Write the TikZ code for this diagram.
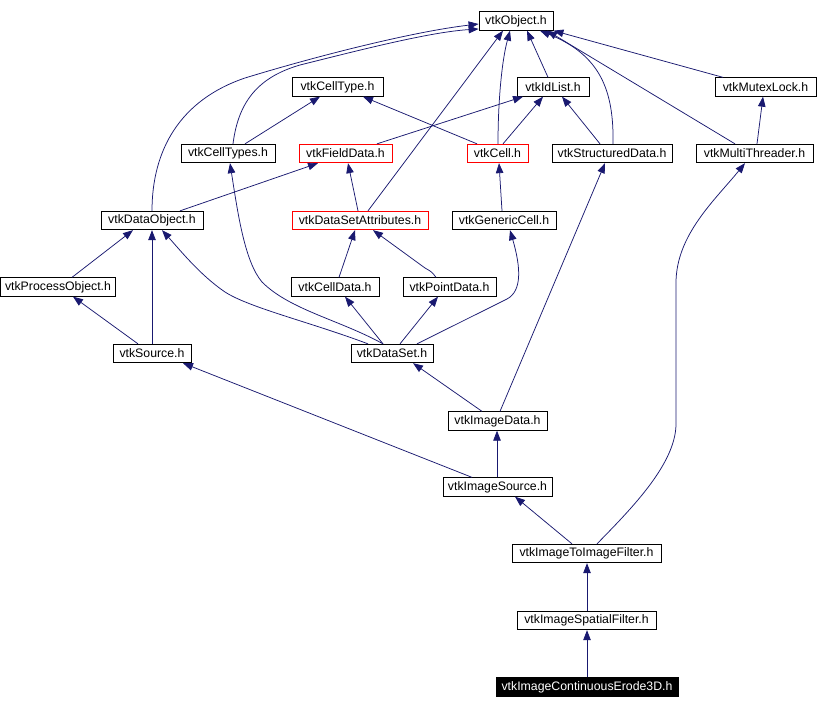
\documentclass[tikz,border=0pt]{standalone}
\usepackage{fontspec}
\setmainfont{Liberation Sans}
\usetikzlibrary{arrows.meta,calc}
\definecolor{edgecol}{HTML}{191970}
\tikzset{
  cls/.style={draw=black,line width=0.8pt,inner sep=0pt,minimum height=18.5pt,font=\fontsize{12.3}{14}\selectfont,fill=white},
  redcls/.style={cls,draw=red},
  maincls/.style={cls,fill=black,text=white},
  edge/.style={draw=edgecol,line width=0.75pt,-{Triangle[length=10pt,width=7.5pt]}},
}
\begin{document}
\begin{tikzpicture}[x=1pt,y=-1pt]
\useasboundingbox (0,0) rectangle (818,709);
% nodes
\node[cls,minimum width=74pt] (obj) at (516,21) {vtkObject.h};
\node[cls,minimum width=72pt] (idlist) at (553,87) {vtkIdList.h};
\node[cls,minimum width=101pt] (mutex) at (765.5,87) {vtkMutexLock.h};
\node[cls,minimum width=91pt] (celltype) at (337.5,87) {vtkCellType.h};
\node[cls,minimum width=94pt] (celltypes) at (228,153.5) {vtkCellTypes.h};
\node[redcls,minimum width=93pt] (fielddata) at (345.5,153.5) {vtkFieldData.h};
\node[redcls,minimum width=61pt] (cell) at (497.5,153.5) {vtkCell.h};
\node[cls,minimum width=120pt] (sd) at (612,153.5) {vtkStructuredData.h};
\node[cls,minimum width=117pt] (mt) at (754.5,153.5) {vtkMultiThreader.h};
\node[cls,minimum width=102pt] (dataobject) at (152,220.5) {vtkDataObject.h};
\node[redcls,minimum width=136pt] (dsa) at (360,220.5) {vtkDataSetAttributes.h};
\node[cls,minimum width=104pt] (gencell) at (504,220.5) {vtkGenericCell.h};
\node[cls,minimum width=115pt] (procobj) at (58,287) {vtkProcessObject.h};
\node[cls,minimum width=88pt] (celldata) at (335,287) {vtkCellData.h};
\node[cls,minimum width=93pt] (pointdata) at (449.5,287) {vtkPointData.h};
\node[cls,minimum width=78pt] (source) at (152,353.5) {vtkSource.h};
\node[cls,minimum width=82pt] (dataset) at (392,353.5) {vtkDataSet.h};
\node[cls,minimum width=99pt] (imagedata) at (497.5,421) {vtkImageData.h};
\node[cls,minimum width=109pt] (imagesource) at (497.5,487) {vtkImageSource.h};
\node[cls,minimum width=149pt] (itif) at (586.5,553.5) {vtkImageToImageFilter.h};
\node[cls,minimum width=139pt] (isf) at (586.5,620.5) {vtkImageSpatialFilter.h};
\node[maincls,minimum width=182pt] (erode) at (587,687) {vtkImageContinuousErode3D.h};
% edges
\draw[edge] (152,0 |- dataobject.north) .. controls (152,150) and (180,100) .. (245,78) .. controls (310,58) and (410,32) .. (obj.west |- 0,24);
\draw[edge] (233,0 |- celltypes.north) .. controls (238,105) and (255,78) .. (300,65) .. controls (360,50) and (430,32) .. (obj.west |- 0,29);
\draw[edge] (245,0 |- celltypes.north) -- (320,0 |- celltype.south);
\draw[edge] (477,0 |- cell.north) -- (363,0 |- celltype.south);
\draw[edge] (377,0 |- fielddata.north) -- (523,0 |- idlist.south);
\draw[edge] (503,0 |- cell.north) -- (543,0 |- idlist.south);
\draw[edge] (600,0 |- sd.north) -- (562,0 |- idlist.south);
\draw[edge] (498,0 |- cell.north) .. controls (498,100) and (502,60) .. (510,0 |- obj.south);
\draw[edge] (368,0 |- dsa.north) -- (503,0 |- obj.south);
\draw[edge] (548,0 |- idlist.north) -- (527,0 |- obj.south);
\draw[edge] (613,0 |- sd.north) .. controls (614,90) and (600,55) .. (540,0 |- obj.south);
\draw[edge] (735,0 |- mt.north) -- (547,0 |- obj.south);
\draw[edge] (723,0 |- mutex.north) -- (obj.south east);
\draw[edge] (757,0 |- mt.north) -- (763,0 |- mutex.south);
\draw[edge] (502,0 |- gencell.north) -- (499,0 |- cell.south);
\draw[edge] (180,0 |- dataobject.north) -- (318,0 |- fielddata.south);
\draw[edge] (358,0 |- dsa.north) -- (348,0 |- fielddata.south);
\draw[edge] (72,0 |- procobj.north) -- (133,0 |- dataobject.south);
\draw[edge] (152,0 |- source.north) -- (152,0 |- dataobject.south);
\draw[edge] (138,0 |- source.north) -- (73,0 |- procobj.south);
\draw[edge] (368,0 |- dataset.north) .. controls (310,322) and (250,308) .. (225,292) .. controls (200,275) and (180,250) .. (162,0 |- dataobject.south);
\draw[edge] (383,0 |- dataset.north) .. controls (340,320) and (290,310) .. (262,282) .. controls (245,262) and (238,215) .. (230,0 |- celltypes.south);
\draw[edge] (339,0 |- celldata.north) -- (355,0 |- dsa.south);
\draw[edge] (436,0 |- pointdata.north) .. controls (432,272) .. (425,268) -- (373,0 |- dsa.south);
\draw[edge] (383,0 |- dataset.north) -- (345,0 |- celldata.south);
\draw[edge] (400,0 |- dataset.north) -- (438,0 |- pointdata.south);
\draw[edge] (417,0 |- dataset.north) -- (507,299) .. controls (522,291) and (521,268) .. (510,0 |- gencell.south);
\draw[edge] (482,0 |- imagedata.north) -- (413,0 |- dataset.south);
\draw[edge] (500,0 |- imagedata.north) -- (605,0 |- sd.south);
\draw[edge] (497,0 |- imagesource.north) -- (497,0 |- imagedata.south);
\draw[edge] (472,0 |- imagesource.north) -- (183,0 |- source.south);
\draw[edge] (572,0 |- itif.north) -- (515,0 |- imagesource.south);
\draw[edge] (597,0 |- itif.north) .. controls (630,510) and (675,465) .. (676,425) -- (676,283) .. controls (676,235) and (715,200) .. (745,0 |- mt.south);
\draw[edge] (587,0 |- isf.north) -- (587,0 |- itif.south);
\draw[edge] (587,0 |- erode.north) -- (587,0 |- isf.south);
\end{tikzpicture}
\end{document}
